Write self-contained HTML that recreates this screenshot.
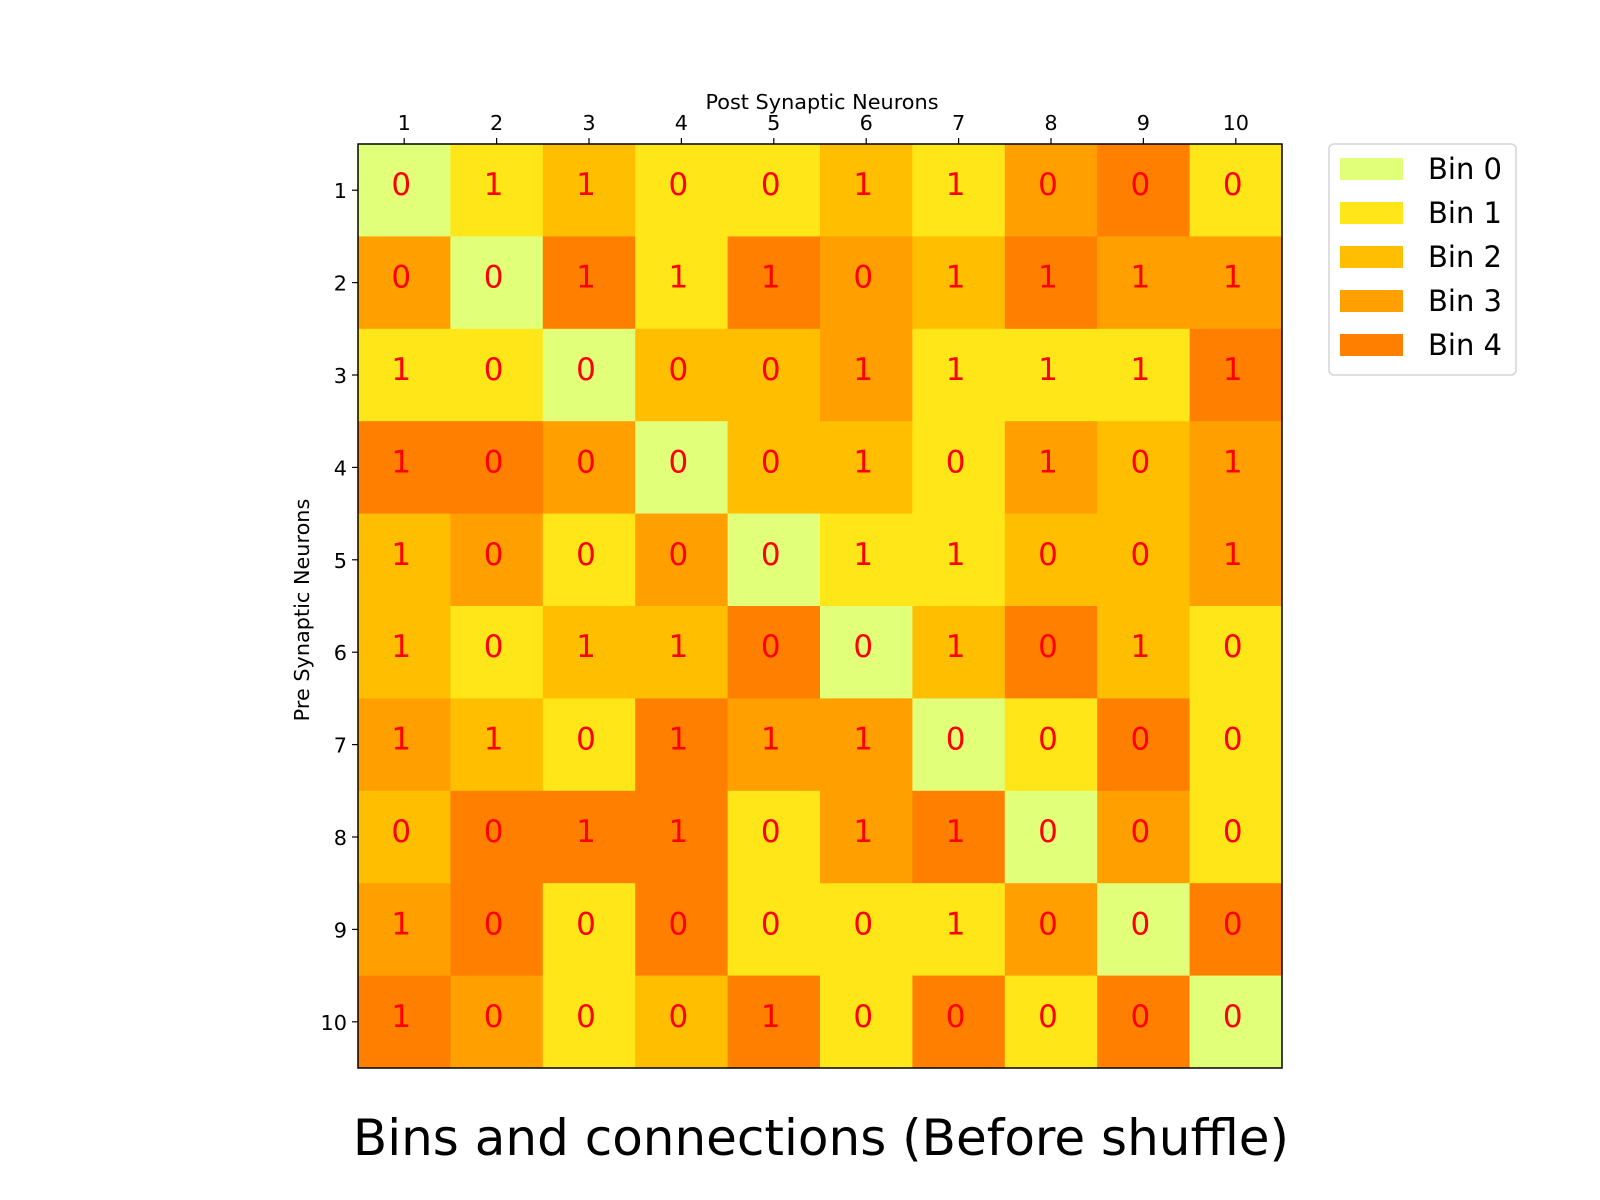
<!DOCTYPE html>
<html><head><meta charset="utf-8"><style>
body{margin:0;background:#fff;}
svg{display:block;font-family:"DejaVu Sans","Liberation Sans",sans-serif;}
</style></head><body>
<svg id="chart" width="1600" height="1200" viewBox="0 0 1600 1200">
<g id="cells"></g>
<g id="ticks"></g>
<rect x="358" y="144" width="924" height="924" fill="none" stroke="#000" stroke-width="1.5"/>
<text x="822" y="109" font-size="20.8" text-anchor="middle">Post Synaptic Neurons</text>
<text x="0" y="0" font-size="20.8" text-anchor="middle" transform="translate(309,610) rotate(-90)">Pre Synaptic Neurons</text>
<text x="821" y="1155" font-size="50" text-anchor="middle">Bins and connections (Before shuffle)</text>
<g id="legend">
<rect x="1329" y="144" width="187" height="231" rx="5" fill="#fff" stroke="#d5d5d5" stroke-width="1.5"/>
</g>
</svg>
<script>
const rowLabels = ["1","2","3","4","5","6","7","8","9","10"];
const colLabels = ["1","2","3","4","5","6","7","8","9","10"];
const binNames = ["Bin 0","Bin 1","Bin 2","Bin 3","Bin 4"];
const binColors = ["#e1ff78","#ffe619","#ffbf00","#ffa000","#ff8000"];
const bins = [
[0,1,2,1,1,2,1,3,4,1],
[3,0,4,1,4,3,2,4,3,3],
[1,1,0,2,2,3,1,1,1,4],
[4,4,3,0,2,2,1,3,2,3],
[2,3,1,3,0,1,1,2,2,3],
[2,1,2,2,4,0,2,4,2,1],
[3,2,1,4,3,3,0,1,4,1],
[2,4,4,4,1,3,4,0,3,1],
[3,4,1,4,1,1,1,3,0,4],
[4,3,1,2,4,1,4,1,4,0]
];
const connections = [
[0,1,1,0,0,1,1,0,0,0],
[0,0,1,1,1,0,1,1,1,1],
[1,0,0,0,0,1,1,1,1,1],
[1,0,0,0,0,1,0,1,0,1],
[1,0,0,0,0,1,1,0,0,1],
[1,0,1,1,0,0,1,0,1,0],
[1,1,0,1,1,1,0,0,0,0],
[0,0,1,1,0,1,1,0,0,0],
[1,0,0,0,0,0,1,0,0,0],
[1,0,0,0,1,0,0,0,0,0]
];
const NS="http://www.w3.org/2000/svg";
const L=358,T=144,W=924,H=924;
const cw=W/colLabels.length, ch=H/rowLabels.length;
const xPos=i=>L+i*cw, yPos=j=>T+j*ch;
function mk(tag,attrs,parent){const e=document.createElementNS(NS,tag);for(const k in attrs)e.setAttribute(k,attrs[k]);parent.appendChild(e);return e;}
const cells=document.getElementById('cells');
bins.forEach((row,j)=>row.forEach((b,i)=>{
  const r=mk('rect',{x:xPos(i),y:yPos(j),width:cw+0.5,height:ch+0.5,fill:binColors[b]},cells);
  
  
  const t=mk('text',{x:xPos(i)+cw/2-3,y:yPos(j)+ch/2+5,'font-size':31,fill:'#ff0000','text-anchor':'middle'},cells);
  t.textContent=connections[j][i];
  
  
}));
const ticks=document.getElementById('ticks');
colLabels.forEach((l,i)=>{
  const x=xPos(i)+cw/2;
  mk('line',{x1:x,x2:x,y1:T,y2:T-6,stroke:'#000','stroke-width':1.2},ticks);
  const t=mk('text',{x:x,y:T-14,'font-size':20.8,'text-anchor':'middle'},ticks);
  t.textContent=l;
  
  
});
rowLabels.forEach((l,j)=>{
  const y=yPos(j)+ch/2;
  mk('line',{x1:L,x2:L-6,y1:y,y2:y,stroke:'#000','stroke-width':1.2},ticks);
  const t=mk('text',{x:L-11,y:y+8,'font-size':20.8,'text-anchor':'end'},ticks);
  t.textContent=l;
  
  
});
const leg=document.getElementById('legend');
binNames.forEach((n,k)=>{
  const cy=169+k*44;
  const r=mk('rect',{x:1340,y:cy-11,width:63,height:22,fill:binColors[k]},leg);
  
  
  const t=mk('text',{x:1428,y:cy+10,'font-size':29},leg);
  t.textContent=n;
  
  
});
</script>
</body></html>
